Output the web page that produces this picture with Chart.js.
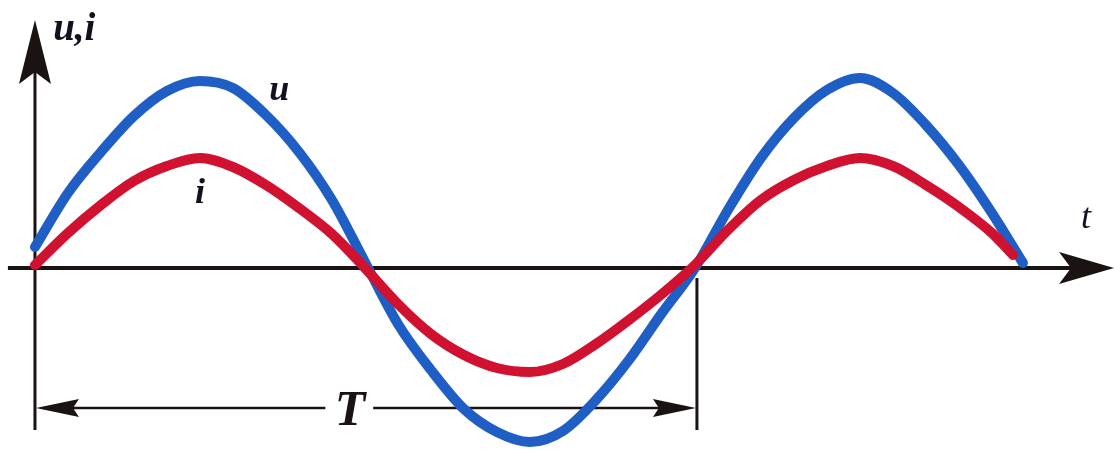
<!DOCTYPE html>
<html>
<head>
<meta charset="utf-8">
<script src="https://cdn.jsdelivr.net/npm/chart.js@4"></script>
<style>
  html, body { margin: 0; padding: 0; background: #fff; }
  #wrap { width: 1115px; height: 454px; }
</style>
</head>
<body>
<div id="wrap"><canvas id="waveChart"></canvas></div>
<script>
// time in ms (one period T = 20 ms), amplitudes in arbitrary units
const uTime = [0, 1, 2, 3, 4, 5, 6, 7, 8, 9, 10, 11, 12, 13, 14, 15, 16, 17, 18, 19, 20, 21, 22, 23, 24, 25, 26, 27, 28, 29, 29.94];
const uValues = [21, 75, 116, 152, 177, 187, 180, 153, 116, 68, 6, -56, -102, -141, -164, -174, -163, -132, -92, -45, 0, 58, 110, 150, 178, 190, 175, 143, 103, 55, 5];

const iTime = [0, 1, 2, 3, 4, 5, 6, 7, 8, 9, 10, 11, 12, 13, 14, 15, 16, 17, 18, 19, 20, 21, 22, 23, 24, 25, 26, 27, 28, 29, 29.64];
const iValues = [3, 35, 63, 87, 102, 110, 101, 83, 60, 34, 0, -36, -66, -87, -100, -104, -96, -76, -52, -26, 3, 38, 68, 88, 102, 110, 102, 83, 61, 35, 13];

const period = 20;

function toPoints(xs, ys) {
    return xs.map(function (x, k) { return { x: x, y: ys[k] }; });
}

function arrowHead(ctx, tipX, tipY, dx, dy, len, halfW, notch) {
    // dx, dy: unit direction the arrow points to
    const bx = tipX - dx * len, by = tipY - dy * len;
    const px = -dy, py = dx;
    ctx.beginPath();
    ctx.moveTo(tipX, tipY);
    ctx.lineTo(bx + px * halfW, by + py * halfW);
    ctx.lineTo(tipX - dx * (len - notch), tipY - dy * (len - notch));
    ctx.lineTo(bx - px * halfW, by - py * halfW);
    ctx.closePath();
    ctx.fill();
}

const axesPlugin = {
    id: 'axesPlugin',
    beforeDatasetsDraw(chart) {
        const ctx = chart.ctx;
        const xs = chart.scales.x, ys = chart.scales.y;
        const x0 = xs.getPixelForValue(0), y0 = ys.getPixelForValue(0);
        const xT = xs.getPixelForValue(period);
        ctx.save();
        ctx.strokeStyle = '#1b1212';
        ctx.fillStyle = '#1b1212';

        // horizontal t axis
        ctx.lineWidth = 4;
        ctx.beginPath();
        ctx.moveTo(xs.getPixelForValue(-0.82), y0);
        ctx.lineTo(xs.getPixelForValue(31.9), y0);
        ctx.stroke();
        arrowHead(ctx, xs.getPixelForValue(32.7), y0, 1, 0, 55, 16, 12);

        // vertical u,i axis
        ctx.lineWidth = 3;
        ctx.beginPath();
        ctx.moveTo(x0, ys.getPixelForValue(-162));
        ctx.lineTo(x0, ys.getPixelForValue(200));
        ctx.stroke();
        arrowHead(ctx, x0, ys.getPixelForValue(248), 0, -1, 64, 16, 12);

        // period marker
        ctx.lineWidth = 3;
        ctx.beginPath();
        ctx.moveTo(xT + 2, ys.getPixelForValue(-10));
        ctx.lineTo(xT + 2, ys.getPixelForValue(-162));
        ctx.stroke();

        const yArr = ys.getPixelForValue(-140);
        ctx.lineWidth = 2.5;
        ctx.beginPath();
        ctx.moveTo(x0 + 20, yArr);
        ctx.lineTo(xs.getPixelForValue(8.8), yArr);
        ctx.moveTo(xs.getPixelForValue(10.25), yArr);
        ctx.lineTo(xT - 20, yArr);
        ctx.stroke();
        arrowHead(ctx, x0 + 1, yArr, -1, 0, 43, 9, 6);
        arrowHead(ctx, xT + 1, yArr, 1, 0, 43, 9, 6);

        ctx.font = 'italic bold 50px "Liberation Serif", serif';
        ctx.textAlign = 'center';
        ctx.textBaseline = 'alphabetic';
        ctx.fillText('T', xs.getPixelForValue(9.55), ys.getPixelForValue(-157));
        ctx.restore();
    },
    afterDatasetsDraw(chart) {
        const ctx = chart.ctx;
        const xs = chart.scales.x, ys = chart.scales.y;
        ctx.save();
        ctx.fillStyle = '#151020';
        ctx.textAlign = 'left';
        ctx.textBaseline = 'alphabetic';
        ctx.font = 'italic bold 39px "Liberation Serif", serif';
        ctx.fillText('u,i', xs.getPixelForValue(0.55), ys.getPixelForValue(228));
        ctx.font = 'italic bold 36px "Liberation Serif", serif';
        ctx.fillText('u', xs.getPixelForValue(7.1), ys.getPixelForValue(168));
        ctx.fillText('i', xs.getPixelForValue(4.85), ys.getPixelForValue(65));
        ctx.font = 'italic 36px "Liberation Serif", serif';
        ctx.fillText('t', xs.getPixelForValue(31.7), ys.getPixelForValue(40));
        ctx.restore();
    }
};

const ctx = document.getElementById('waveChart');

new Chart(ctx, {
    type: 'line',
    data: {
        datasets: [
            {
                label: 'i',
                data: toPoints(iTime, iValues),
                borderColor: '#d01230',
                borderWidth: 10,
                borderCapStyle: 'round',
                pointRadius: 0,
                cubicInterpolationMode: 'monotone',
                fill: false,
                order: 0
            },
            {
                label: 'u',
                data: toPoints(uTime, uValues),
                borderColor: '#1f5ec4',
                borderWidth: 10,
                borderCapStyle: 'round',
                pointRadius: 0,
                cubicInterpolationMode: 'monotone',
                fill: false,
                order: 1
            }
        ]
    },
    options: {
        responsive: true,
        maintainAspectRatio: false,
        animation: false,
        layout: { padding: 0 },
        plugins: {
            legend: { display: false },
            tooltip: { enabled: false }
        },
        scales: {
            x: { type: 'linear', min: -1.06, max: 32.73, display: false },
            y: { type: 'linear', min: -186, max: 268, display: false }
        }
    },
    plugins: [axesPlugin]
});
</script>
</body>
</html>
